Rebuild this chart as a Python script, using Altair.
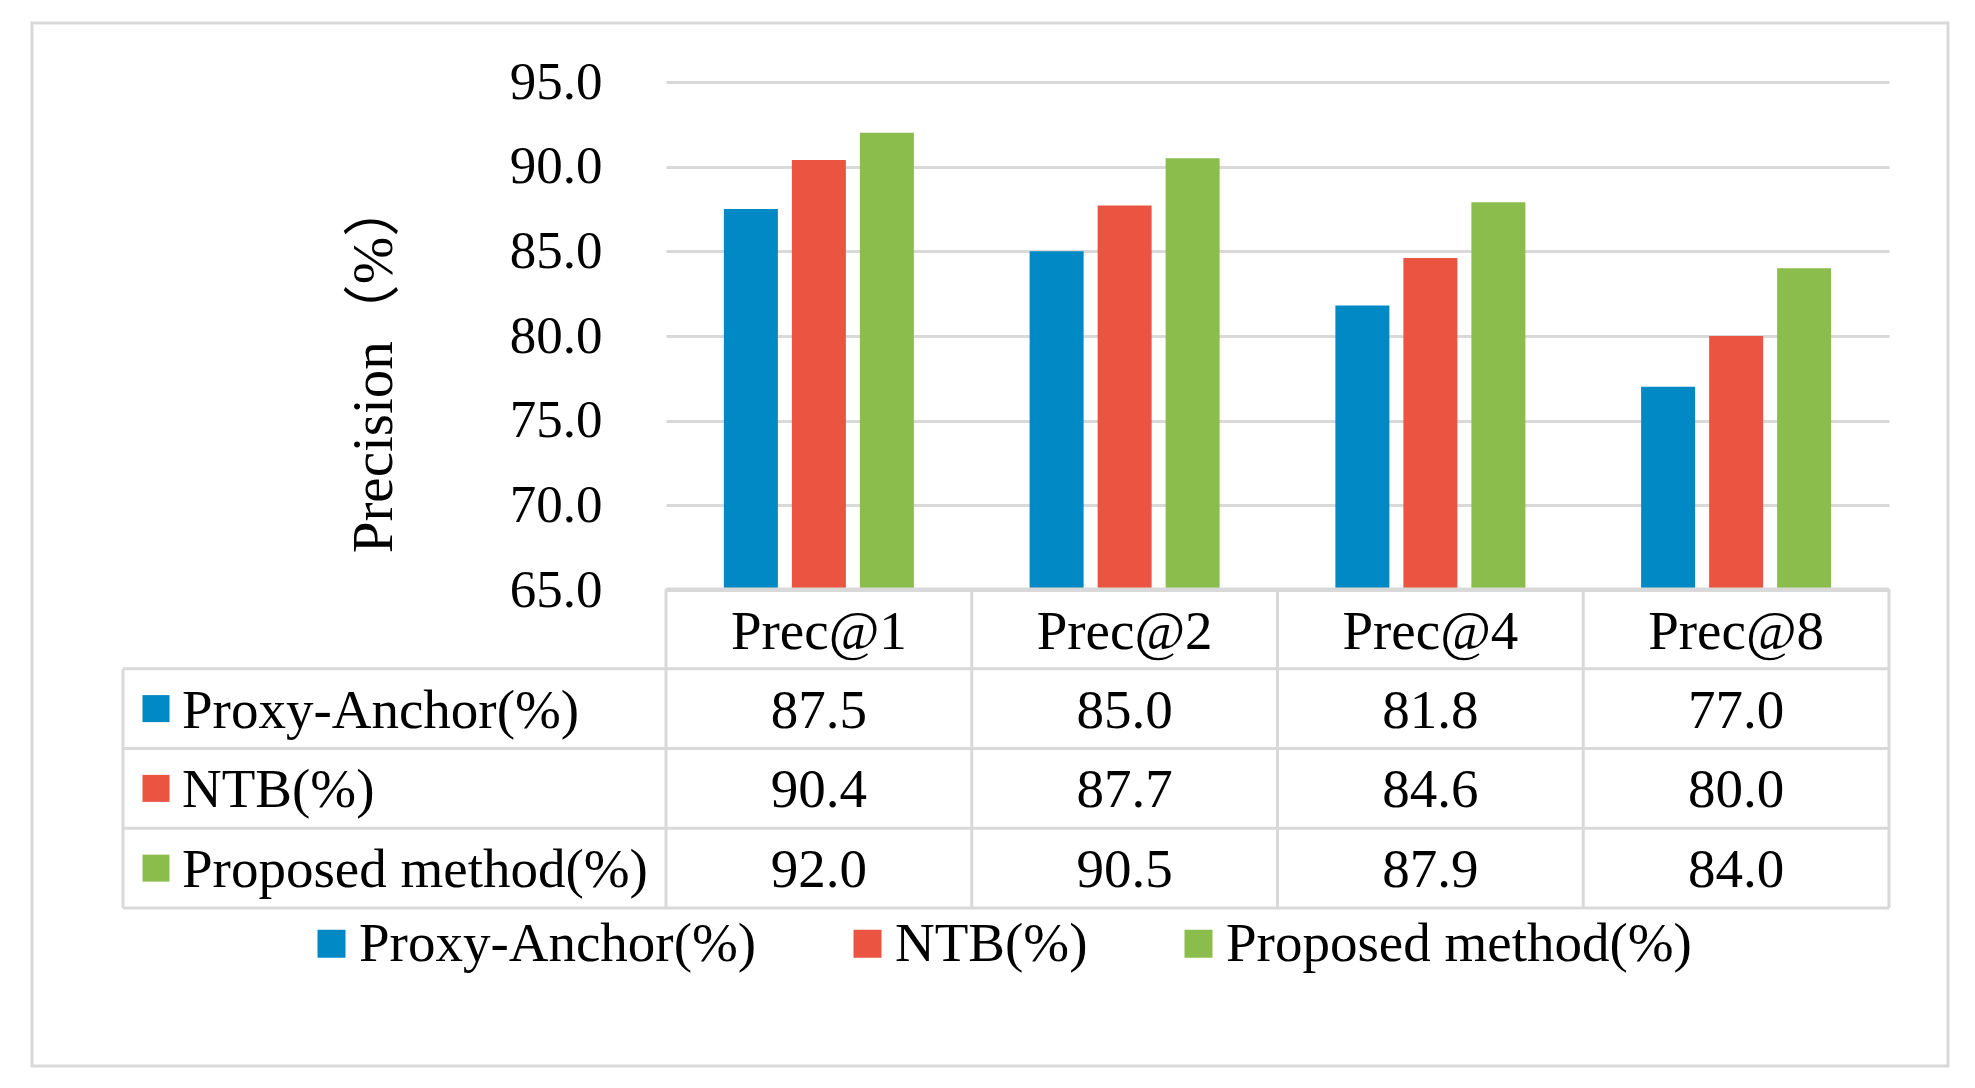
import altair as alt
import pandas as pd

categories = ["Prec@1", "Prec@2", "Prec@4", "Prec@8"]
series_names = ["Proxy-Anchor(%)", "NTB(%)", "Proposed method(%)"]
proxy_anchor = [87.5, 85.0, 81.8, 77.0]
ntb = [90.4, 87.7, 84.6, 80.0]
proposed = [92.0, 90.5, 87.9, 84.0]
y_ticks = [65, 70, 75, 80, 85, 90, 95]
colors = ["#0089C4", "#EA5441", "#8BBD4C"]
y_title = "Precision（%）"

FONT = "Liberation Serif, Times New Roman, Noto Sans CJK SC, serif"
FS = 55
LINE = "#D9D9D9"
W, H = 1223, 508

rows = ["header"] + series_names

records = []
for s, vals in zip(series_names, [proxy_anchor, ntb, proposed]):
    for c, v in zip(categories, vals):
        records.append({"cat": c, "series": s, "value": v, "label": f"{v:.1f}", "row": s})
df = pd.DataFrame(records)
header_df = pd.DataFrame({"cat": categories, "row": ["header"] * len(categories)})
rowlab_df = pd.DataFrame({"series": series_names, "row": series_names})
cat_df = pd.DataFrame({"cat": categories})
last_cat_df = pd.DataFrame({"cat": [categories[-1]]})
top_df = pd.DataFrame({"row": ["header"]})
last_row_df = pd.DataFrame({"row": [series_names[-1]]})

xscale = alt.Scale(domain=categories, paddingInner=0, paddingOuter=0)
row_scale = alt.Scale(type="band", domain=rows, range=[507, 826], paddingInner=0, paddingOuter=0)
cscale = alt.Scale(domain=series_names, range=colors)

bars = alt.Chart(df).mark_bar().encode(
    x=alt.X("cat:N", scale=xscale, sort=categories, axis=None),
    xOffset=alt.XOffset("series:N", sort=series_names,
                        scale=alt.Scale(domain=series_names, paddingInner=0.206, paddingOuter=0.851)),
    y=alt.Y("value:Q", scale=alt.Scale(domain=[65, 95], nice=False, zero=False),
            axis=alt.Axis(values=y_ticks, format=".1f", title=y_title,
                          labelFont=FONT, labelFontSize=53, labelColor="black",
                          labelPadding=64, ticks=False, domain=False, labelLimit=1000,
                          gridColor=LINE, gridWidth=3,
                          titleFont=FONT, titleFontSize=57, titleColor="black",
                          titleFontWeight="normal", titleAngle=270, titleAlign="center",
                          titleBaseline="alphabetic", titleX=-275, titleY=284)),
    y2=alt.datum(65),
    color=alt.Color("series:N", scale=cscale, sort=series_names,
                    legend=alt.Legend(orient="none", legendX=-362, legendY=834,
                                      direction="horizontal", title=None,
                                      symbolType="square", symbolSize=784,
                                      symbolStrokeWidth=0, symbolOpacity=1,
                                      labelFont=FONT, labelFontSize=FS, labelColor="black",
                                      labelOffset=0, columnPadding=83, labelLimit=1000)),
)

frame = alt.Chart(top_df).mark_rect(fillOpacity=0, stroke=LINE, strokeWidth=3).encode(
    x=alt.value(-634), x2=alt.value(1282), y=alt.value(-59), y2=alt.value(984)
)

# table horizontal lines
h_top = alt.Chart(top_df).mark_rule(color=LINE, strokeWidth=3).encode(
    y=alt.Y("row:N", scale=row_scale, bandPosition=0, axis=None),
    x=alt.value(0), x2=alt.value(W),
)
h_rows = alt.Chart(rowlab_df).mark_rule(color=LINE, strokeWidth=3).encode(
    y=alt.Y("row:N", scale=row_scale, bandPosition=0, axis=None),
    x=alt.value(-543), x2=alt.value(W),
)
h_bottom = alt.Chart(last_row_df).mark_rule(color=LINE, strokeWidth=3).encode(
    y=alt.Y("row:N", scale=row_scale, bandPosition=1, axis=None),
    x=alt.value(-543), x2=alt.value(W),
)
# table vertical lines
v_cols = alt.Chart(cat_df).mark_rule(color=LINE, strokeWidth=3).encode(
    x=alt.X("cat:N", scale=xscale, bandPosition=0, axis=None),
    y=alt.value(507), y2=alt.value(826),
)
v_right = alt.Chart(last_cat_df).mark_rule(color=LINE, strokeWidth=3).encode(
    x=alt.X("cat:N", scale=xscale, bandPosition=1, axis=None),
    y=alt.value(507), y2=alt.value(826),
)
v_left = alt.Chart(top_df).mark_rule(color=LINE, strokeWidth=3).encode(
    x=alt.value(-543), y=alt.value(587), y2=alt.value(826),
)

header_text = alt.Chart(header_df).mark_text(font=FONT, fontSize=FS, color="black", baseline="middle", dy=3).encode(
    x=alt.X("cat:N", scale=xscale, axis=None),
    y=alt.Y("row:N", scale=row_scale, axis=None),
    text="cat:N",
)
value_text = alt.Chart(df).mark_text(font=FONT, fontSize=FS, color="black", baseline="middle", dy=2).encode(
    x=alt.X("cat:N", scale=xscale, axis=None),
    y=alt.Y("row:N", scale=row_scale, axis=None),
    text="label:N",
)
row_text = alt.Chart(rowlab_df).mark_text(font=FONT, fontSize=FS, color="black", align="left",
                                          baseline="middle", dy=2).encode(
    x=alt.value(-484),
    y=alt.Y("row:N", scale=row_scale, axis=None),
    text="series:N",
)
row_sq = alt.Chart(rowlab_df).mark_point(shape="square", filled=True, size=729, opacity=1).encode(
    x=alt.value(-510),
    y=alt.Y("row:N", scale=row_scale, axis=None),
    color=alt.Color("series:N", scale=cscale, sort=series_names),
)

chart = alt.layer(
    frame, bars, h_top, h_rows, h_bottom, v_cols, v_right, v_left,
    header_text, value_text, row_text, row_sq,
).resolve_scale(y="independent").properties(
    width=W, height=H,
    autosize=alt.AutoSizeParams(type="none"),
    padding={"left": 658, "top": 74, "right": 70, "bottom": 485},
    background="white",
).configure_view(strokeWidth=0)

chart.save("out.html", embed_options={"renderer": "svg", "actions": False})
